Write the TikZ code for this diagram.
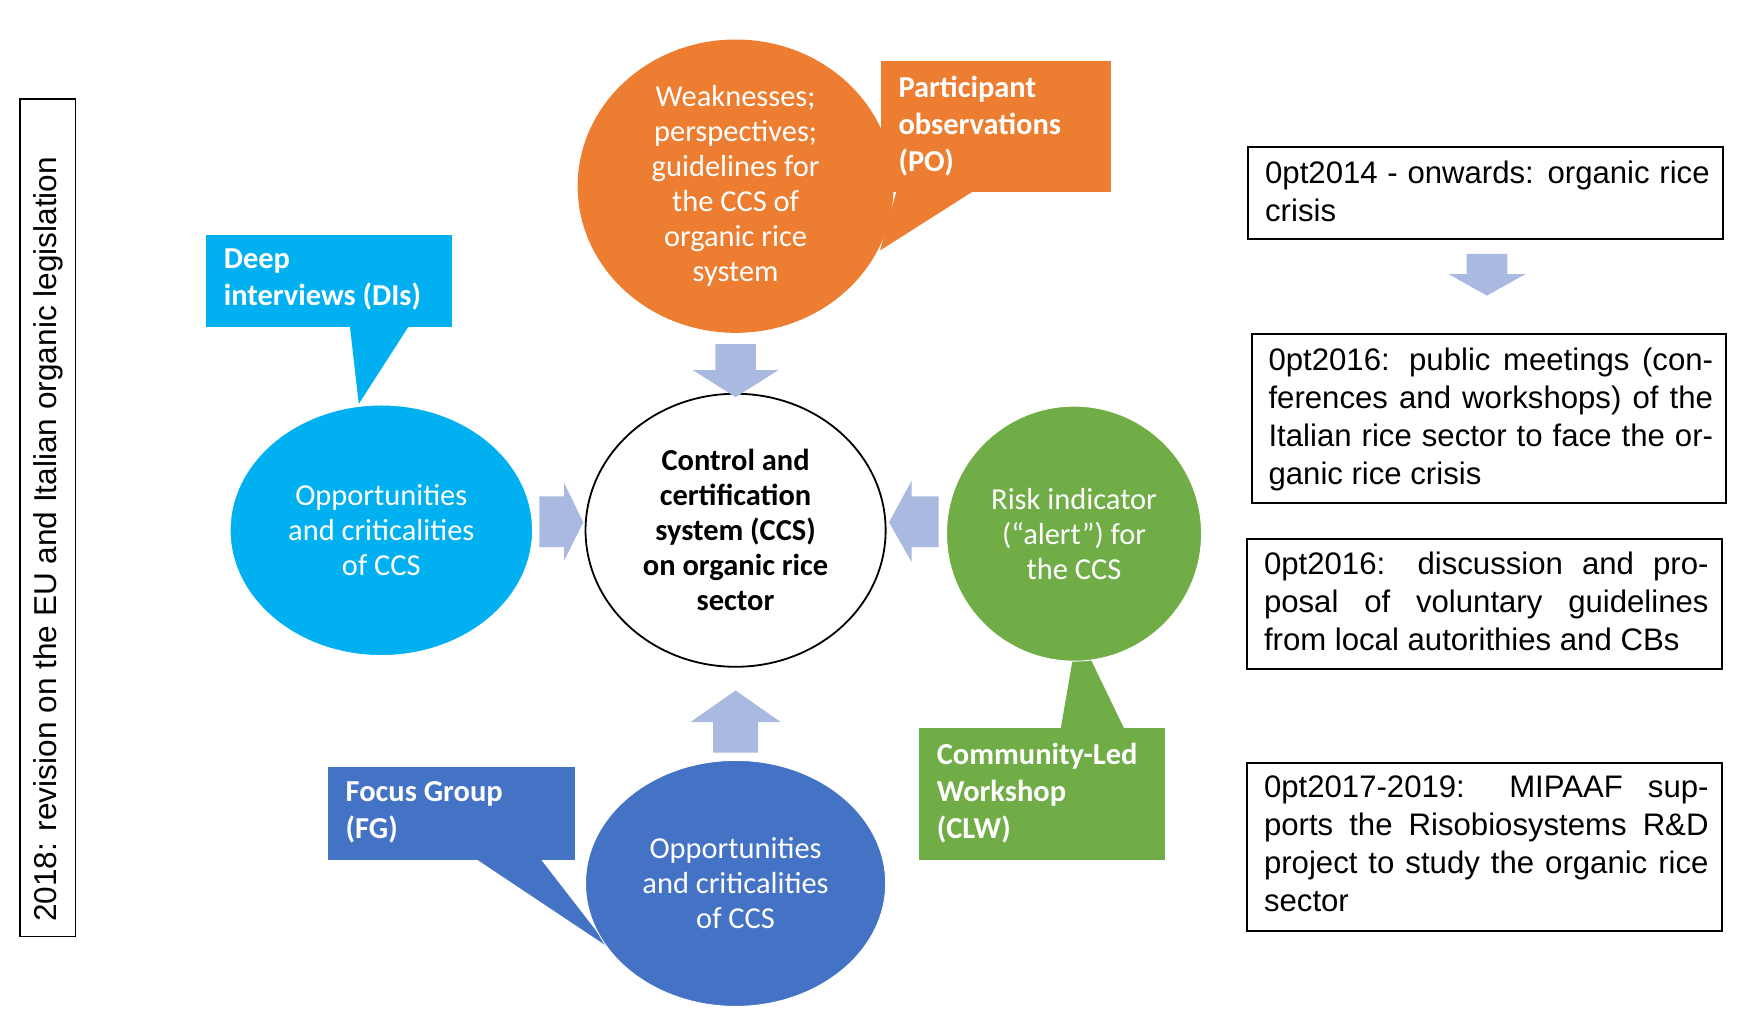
\documentclass[tikz,border=0pt]{standalone}
\usepackage{fontspec}
\setmainfont{Carlito}
\newfontfamily\arial{Liberation Sans}
\usetikzlibrary{arrows.meta}
\definecolor{cor}{HTML}{ED7D31}
\definecolor{ccy}{HTML}{00B0F0}
\definecolor{cgr}{HTML}{70AD47}
\definecolor{cbl}{HTML}{4472C4}
\definecolor{cga}{HTML}{D6DCE5}
\definecolor{cba}{HTML}{AAB9DF}
\tikzset{
 bigarr/.style={draw=none,line width=19pt,cga,opacity=0.9,-{Triangle[width=42pt,length=22pt]}},
 circ/.style={ellipse,inner sep=0pt,text=white,align=center,font=\fontsize{13.5}{15.5}\selectfont},
 lab/.style={anchor=north west,text=white,align=left,inner sep=0pt,font=\fontsize{13.5}{16.5}\selectfont\bfseries},
 rtxt/.style={anchor=north west,inner sep=0pt,text width=197pt,align=justify,font=\arial\fontsize{13.8}{16.8}\selectfont\hyphenpenalty=10000\exhyphenpenalty=10000},
 smarr/.style={fill=cba,draw=none}
}
\usetikzlibrary{shapes.geometric}
\begin{document}
\begin{tikzpicture}[x=0.5pt,y=-0.5pt]
\useasboundingbox (0,0) rectangle (1560,907);
% left box
\draw[thick] (18,88) rectangle (67,830);
\node[rotate=90,font=\arial\fontsize{14}{16}\selectfont] (leg) at (43,478) {2018: revision on the EU and Italian organic legislation};
% gray arrows
\coordinate (a1) at (770,178); \coordinate (a2) at (1105,322);
\coordinate (b1) at (730,283); \coordinate (b2) at (1100,505);
\coordinate (c1) at (817,535); \coordinate (c2) at (70,660);
\coordinate (d1) at (745,860); \coordinate (d2) at (1108,742);
\draw[bigarr] (a1) -- (a2);
\draw[bigarr] (b1) -- (b2);
\draw[bigarr,-{Triangle[width=46pt,length=24pt]}] (c1) -- (c2);
\draw[bigarr] (d1) -- (d2);
% tails
\fill[cor] (795,168) -- (865,168) -- (780,222) -- cycle;
\fill[ccy] (310,288) -- (363,288) -- (318,358) -- cycle;
\fill[cgr] (940,647) -- (997,647) -- (955,560) -- cycle;
\fill[cbl] (420,760) -- (478,760) -- (540,840) -- cycle;
% circles
\node[circ,fill=cor,minimum width=140pt,minimum height=130pt] (or) at (652,165) {Weaknesses;\\perspectives;\\guidelines for\\the CCS of\\organic rice\\system};
\node[circ,fill=ccy,draw=white,minimum width=134pt,minimum height=111pt] (cy) at (338,470) {Opportunities\\and criticalities\\of CCS};
\node[circ,fill=cgr,draw=white,minimum width=113pt,minimum height=113pt] (gr) at (952,473) {Risk indicator\\(“alert”) for\\the CCS};
\node[circ,fill=cbl,draw=white,minimum width=133pt,minimum height=109pt] (bl) at (652,783) {Opportunities\\and criticalities\\of CCS};
\node[circ,draw=black,thick,text=black,minimum width=133pt,minimum height=121pt,font=\fontsize{13.5}{15.5}\selectfont\bfseries] (cc) at (652,470) {Control and\\certification\\system (CCS)\\on organic rice\\sector};
% label boxes
\fill[cor] (781,54) rectangle (985,170);
\node[lab] (po) at (796,67) {Participant\\observations\\(PO)};
\fill[ccy] (183,208) rectangle (401,290);
\node[lab] (di) at (198,220) {Deep\\interviews (DIs)};
\fill[cgr] (815,645) rectangle (1033,762);
\node[lab] (clw) at (830,658) {Community-Led\\Workshop\\(CLW)};
\fill[cbl] (291,680) rectangle (510,762);
\node[lab] (fg) at (306,692) {Focus Group\\(FG)};
% small arrows
\fill[smarr] (634,305) -- (670,305) -- (670,328) -- (690,328) -- (652,352) -- (614,328) -- (634,328) -- cycle;
\fill[smarr] (632,667) -- (672,667) -- (672,640) -- (692,640) -- (652,612) -- (612,640) -- (632,640) -- cycle;
\fill[smarr] (478,440) -- (500,440) -- (500,428) -- (517,463) -- (500,497) -- (500,485) -- (478,485) -- cycle;
\fill[smarr] (832,440) -- (808,440) -- (808,426) -- (788,463) -- (808,498) -- (808,485) -- (832,485) -- cycle;
\fill[smarr] (1300,225) -- (1336,225) -- (1336,243) -- (1352,243) -- (1318,262) -- (1284,243) -- (1300,243) -- cycle;
% right boxes
\draw[thick] (1106,130) rectangle (1527,212);
\node[rtxt] (r1) at (1121,142) {2014 - onwards: organic rice crisis};
\draw[thick] (1110,296) rectangle (1530,446);
\node[rtxt] (r2) at (1124,308) {2016: public meetings (conferences and workshops) of the Italian rice sector to face the organic rice crisis};
\draw[thick] (1105,478) rectangle (1526,593);
\node[rtxt] (r3) at (1120,489) {2016: discussion and proposal of voluntary guidelines from local autorithies and CBs};
\draw[thick] (1105,676) rectangle (1526,825);
\node[rtxt] (r4) at (1120,687) {2017-2019: MIPAAF supports the Risobiosystems R\&D project to study the organic rice sector};
\end{tikzpicture}
\end{document}
